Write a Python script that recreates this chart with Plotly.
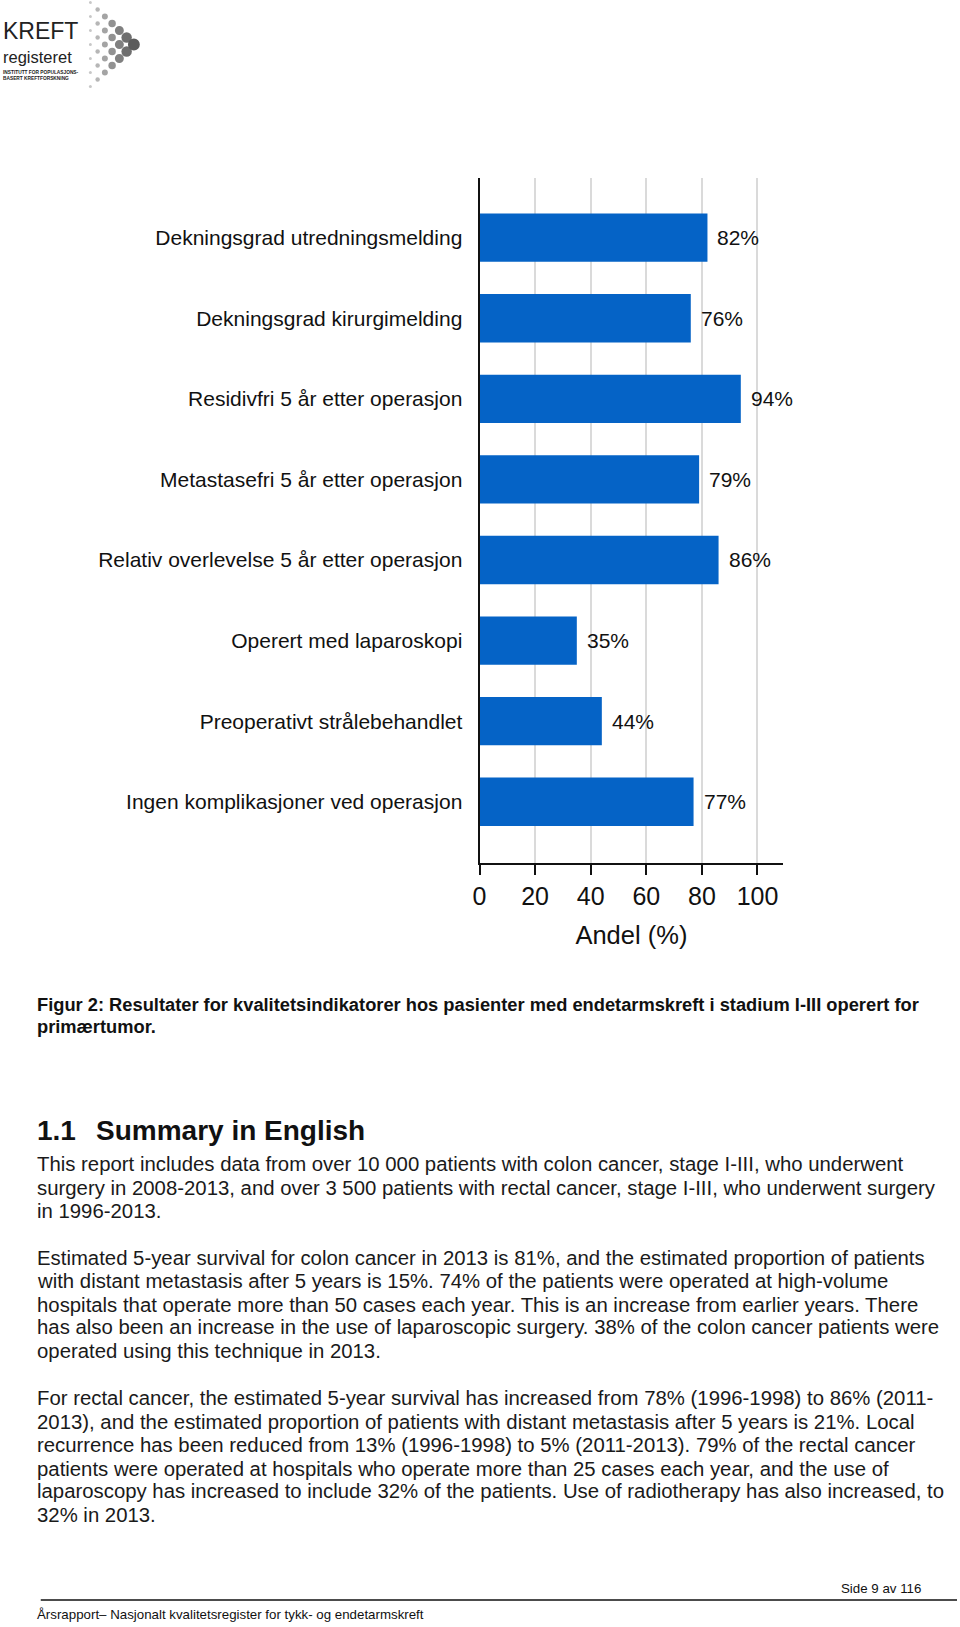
import plotly.graph_objects as go

# ---------------- data ----------------
categories = [
    "Dekningsgrad utredningsmelding",
    "Dekningsgrad kirurgimelding",
    "Residivfri 5 år etter operasjon",
    "Metastasefri 5 år etter operasjon",
    "Relativ overlevelse 5 år etter operasjon",
    "Operert med laparoskopi",
    "Preoperativt strålebehandlet",
    "Ingen komplikasjoner ved operasjon",
]
values = [82, 76, 94, 79, 86, 35, 44, 77]
x_ticks = [0, 20, 40, 60, 80, 100]
x_title = "Andel (%)"

caption_lines = [
    "Figur 2: Resultater for kvalitetsindikatorer hos pasienter med endetarmskreft i stadium I-III operert for",
    "primærtumor.",
]
heading_num = "1.1"
heading_text = "Summary in English"
body_paragraphs = [
    [
        "This report includes data from over 10 000 patients with colon cancer, stage I-III, who underwent",
        "surgery in 2008-2013, and over 3 500 patients with rectal cancer, stage I-III, who underwent surgery",
        "in 1996-2013.",
    ],
    [
        "Estimated 5-year survival for colon cancer in 2013 is 81%, and the estimated proportion of patients",
        "with distant metastasis after 5 years is 15%. 74% of the patients were operated at high-volume",
        "hospitals that operate more than 50 cases each year. This is an increase from earlier years. There",
        "has also been an increase in the use of laparoscopic surgery. 38% of the colon cancer patients were",
        "operated using this technique in 2013.",
    ],
    [
        "For rectal cancer, the estimated 5-year survival has increased from 78% (1996-1998) to 86% (2011-",
        "2013), and the estimated proportion of patients with distant metastasis after 5 years is 21%. Local",
        "recurrence has been reduced from 13% (1996-1998) to 5% (2011-2013). 79% of the rectal cancer",
        "patients were operated at hospitals who operate more than 25 cases each year, and the use of",
        "laparoscopy has increased to include 32% of the patients. Use of radiotherapy has also increased, to",
        "32% in 2013.",
    ],
]
footer_left = "Årsrapport– Nasjonalt kvalitetsregister for tykk- og endetarmskreft"
footer_right = "Side 9 av 116"

# ---------------- layout helpers ----------------
W, H = 960, 1627
FONT = "Liberation Sans, Arial, sans-serif"
TXT = "#111111"
DX = -9  # correction for left-anchored page texts


def px(x):
    return x / W


def py(y):
    return 1 - y / H


fig = go.Figure()
fig.add_trace(
    go.Bar(
        x=values,
        y=categories,
        orientation="h",
        width=0.6,
        marker=dict(color="#0563C6", line=dict(width=0)),
        hoverinfo="skip",
    )
)

annotations = []
# value labels
for c, v in zip(categories, values):
    annotations.append(
        dict(
            x=v, y=c, xref="x", yref="y", text=f"{v}%", showarrow=False,
            xanchor="left", yanchor="middle", xshift=8,
            font=dict(family=FONT, size=21, color=TXT),
        )
    )


def left_text(x, y, text, size, bold=False, color=TXT):
    t = f"<b>{text}</b>" if bold else text
    annotations.append(
        dict(x=px(x + DX), y=py(y), xref="paper", yref="paper", text=t,
             showarrow=False, xanchor="left", yanchor="middle", align="left",
             font=dict(family=FONT, size=size, color=color))
    )


# caption
for line, yy in zip(caption_lines, [1004.6, 1026.4]):
    left_text(37, yy, line, 18.3, bold=True)

# heading
left_text(37, 1130, heading_num, 28, bold=True)
left_text(96.5, 1130, heading_text, 28, bold=True)

# body text
para_y = [
    [1164.4, 1188.3, 1211.1],
    [1257.8, 1280.6, 1304.5, 1327.4, 1351.2],
    [1397.9, 1421.8, 1444.6, 1468.5, 1491.3, 1515.2],
]
for lines, ys in zip(body_paragraphs, para_y):
    for line, yy in zip(lines, ys):
        left_text(37.5, yy, line, 20.35, color="#1a1a1a")

# footer
annotations.append(
    dict(x=px(923), y=py(1588), xref="paper", yref="paper", text=footer_right,
         showarrow=False, xanchor="right", yanchor="middle",
         font=dict(family=FONT, size=13.3, color=TXT))
)
left_text(37, 1614, footer_left, 13.3)

# logo text
left_text(3, 31, "KREFT", 23, color="#222222")
left_text(3, 57, "registeret", 16.5, color="#222222")
annotations.append(
    dict(x=px(3 + DX), y=py(75.5), xref="paper", yref="paper",
         text="<b>INSTITUTT FOR POPULASJONS-<br>BASERT KREFTFORSKNING</b>",
         showarrow=False, xanchor="left", yanchor="middle", align="left",
         font=dict(family=FONT, size=4.8, color="#222222"))
)

shapes = []
# logo spheres (decorative arrow of dots)
ncol = 7
for j in range(ncol):
    n = ncol - j
    cx = 84 + j * 7.3
    r = 1.5 + j * 0.75
    shade = int(200 - j * 18)
    col = f"rgb({shade},{shade},{shade})"
    for k in range(n):
        cy = 44.5 + (k - (n - 1) / 2) * 14
        shapes.append(
            dict(type="circle", xref="paper", yref="paper",
                 x0=px(cx - r), x1=px(cx + r), y0=py(cy + r), y1=py(cy - r),
                 fillcolor=col, line=dict(width=0))
        )

# footer rule
shapes.append(
    dict(type="line", xref="paper", yref="paper", x0=px(34), x1=px(957),
         y0=py(1600), y1=py(1600), line=dict(color="#111111", width=1.5))
)

x_px0, x_px1 = 476, 782
px_per_unit = (757 - 477) / 100.0
fig.update_layout(
    width=W, height=H,
    margin=dict(l=0, r=0, t=0, b=0),
    paper_bgcolor="white", plot_bgcolor="white",
    showlegend=False,
    annotations=annotations,
    shapes=shapes,
    xaxis=dict(
        domain=[px(x_px0), px(x_px1)],
        range=[0, (x_px1 - x_px0) / px_per_unit],
        tickvals=x_ticks,
        ticktext=[str(t) for t in x_ticks],
        ticks="outside", ticklen=10, tickwidth=2, tickcolor="#111111",
        showline=True, linecolor="#111111", linewidth=2,
        showgrid=True, gridcolor="#dadada", gridwidth=2,
        zeroline=False,
        tickfont=dict(family=FONT, size=25, color=TXT),
        title=dict(text=x_title, font=dict(family=FONT, size=25.5, color=TXT), standoff=17),
        fixedrange=True,
    ),
    yaxis=dict(
        domain=[py(863), py(178)],
        categoryorder="array", categoryarray=categories,
        range=[len(categories) - 1 + 0.76, -0.74],
        showline=True, linecolor="#111111", linewidth=2,
        ticks="", showgrid=False, zeroline=False,
        ticklabelstandoff=11,
        tickfont=dict(family=FONT, size=21, color=TXT),
        fixedrange=True,
    ),
)

fig.write_html("out.html")
